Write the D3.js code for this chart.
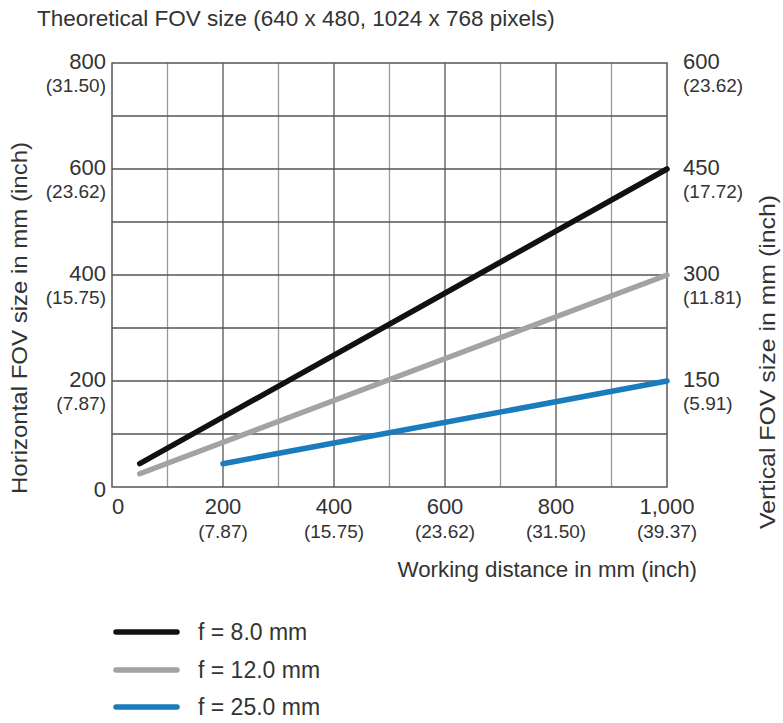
<!DOCTYPE html>
<html>
<head>
<meta charset="utf-8">
<script src="https://cdn.jsdelivr.net/npm/d3@7"></script>
<style>
  html, body { margin: 0; padding: 0; background: #fff; }
  svg text { font-family: "Liberation Sans", Arial, sans-serif; fill: #333; }
</style>
</head>
<body>
<svg id="chart" width="783" height="723"></svg>
<script>
// ---- data ----
const titleText = "Theoretical FOV size (640 x 480, 1024 x 768 pixels)";
const xTicks = [0, 200, 400, 600, 800, 1000];
const xTickLabels = ["0", "200", "400", "600", "800", "1,000"];
const xTickInch = ["", "(7.87)", "(15.75)", "(23.62)", "(31.50)", "(39.37)"];
const yLeftTicks = [0, 200, 400, 600, 800];
const yLeftInch = ["", "(7.87)", "(15.75)", "(23.62)", "(31.50)"];
const yRightTicks = [150, 300, 450, 600];
const yRightInch = ["(5.91)", "(11.81)", "(17.72)", "(23.62)"];
const seriesNames = ["f = 8.0 mm", "f = 12.0 mm", "f = 25.0 mm"];
const seriesColors = ["#111111", "#a3a3a3", "#1a7bbd"];
const distF8 = [50, 1000];
const fovF8 = [44, 600];
const distF12 = [50, 1000];
const fovF12 = [25, 400];
const distF25 = [200, 1000];
const fovF25 = [44, 200];

const series = [
  {name: seriesNames[0], color: seriesColors[0], pts: distF8.map((d, i) => [d, fovF8[i]])},
  {name: seriesNames[1], color: seriesColors[1], pts: distF12.map((d, i) => [d, fovF12[i]])},
  {name: seriesNames[2], color: seriesColors[2], pts: distF25.map((d, i) => [d, fovF25[i]])}
];

const svg = d3.select("#chart");
const L = 112, R = 667, T = 63, B = 487;
const x = d3.scaleLinear().domain([0, 1000]).range([L, R]);
const yL = d3.scaleLinear().domain([0, 800]).range([B, T]);
const yR = d3.scaleLinear().domain([0, 600]).range([B, T]);

const NUM = 22, PAR = 19;

// title
svg.append("text").attr("x", 37).attr("y", 26).attr("font-size", 22.5).text(titleText);

// grid
const g = svg.append("g");
d3.range(100, 1000, 100).forEach(v => {
  g.append("line").attr("x1", x(v)).attr("x2", x(v)).attr("y1", T).attr("y2", B)
    .attr("stroke", v % 200 === 0 ? "#555" : "#999").attr("stroke-width", 1.3);
});
d3.range(100, 800, 100).forEach(v => {
  g.append("line").attr("x1", L).attr("x2", R).attr("y1", yL(v)).attr("y2", yL(v))
    .attr("stroke", "#555").attr("stroke-width", 1.3);
});
g.append("rect").attr("x", L).attr("y", T).attr("width", R - L).attr("height", B - T)
  .attr("fill", "none").attr("stroke", "#555").attr("stroke-width", 1.5);

// series lines
const line = d3.line().x(d => x(d[0])).y(d => yL(d[1]));
series.forEach(s => {
  svg.append("path").attr("d", line(s.pts)).attr("fill", "none")
    .attr("stroke", s.color).attr("stroke-width", 5.5).attr("stroke-linecap", "round");
});

// left tick labels
yLeftTicks.forEach((v, i) => {
  const yy = yL(v);
  svg.append("text").attr("x", 106).attr("y", yy + 6 + (v === 0 ? 4 : 0)).attr("text-anchor", "end")
    .attr("font-size", NUM).text(v);
  if (yLeftInch[i]) svg.append("text").attr("x", 106).attr("y", yy + 29).attr("text-anchor", "end")
    .attr("font-size", PAR).text(yLeftInch[i]);
});
// right tick labels
yRightTicks.forEach((v, i) => {
  const yy = yR(v);
  svg.append("text").attr("x", 683).attr("y", yy + 6).attr("font-size", NUM).text(v);
  svg.append("text").attr("x", 683).attr("y", yy + 29).attr("font-size", PAR).text(yRightInch[i]);
});
// x tick labels
xTicks.forEach((v, i) => {
  const xx = x(v) + (v === 0 ? 6 : 0);
  svg.append("text").attr("x", xx).attr("y", 514).attr("text-anchor", "middle")
    .attr("font-size", NUM).text(xTickLabels[i]);
  if (xTickInch[i]) svg.append("text").attr("x", xx).attr("y", 538).attr("text-anchor", "middle")
    .attr("font-size", PAR).text(xTickInch[i]);
});

// axis titles
svg.append("text").attr("x", 697).attr("y", 577).attr("text-anchor", "end")
  .attr("font-size", 22.3).text("Working distance in mm (inch)");
svg.append("text").attr("transform", "translate(27,318) rotate(-90)").attr("text-anchor", "middle")
  .attr("font-size", 22).attr("textLength", 352).attr("lengthAdjust", "spacingAndGlyphs")
  .text("Horizontal FOV size in mm (inch)");
svg.append("text").attr("transform", "translate(775,362) rotate(-90)").attr("text-anchor", "middle")
  .attr("font-size", 22).attr("textLength", 334).attr("lengthAdjust", "spacingAndGlyphs")
  .text("Vertical FOV size in mm (inch)");

// legend
const legY = [632, 670, 707];
series.forEach((s, i) => {
  svg.append("line").attr("x1", 116).attr("x2", 177).attr("y1", legY[i]).attr("y2", legY[i])
    .attr("stroke", s.color).attr("stroke-width", 5.5).attr("stroke-linecap", "round");
  svg.append("text").attr("x", 198).attr("y", legY[i] + 8).attr("font-size", 23).text(s.name);
});
</script>
</body>
</html>
